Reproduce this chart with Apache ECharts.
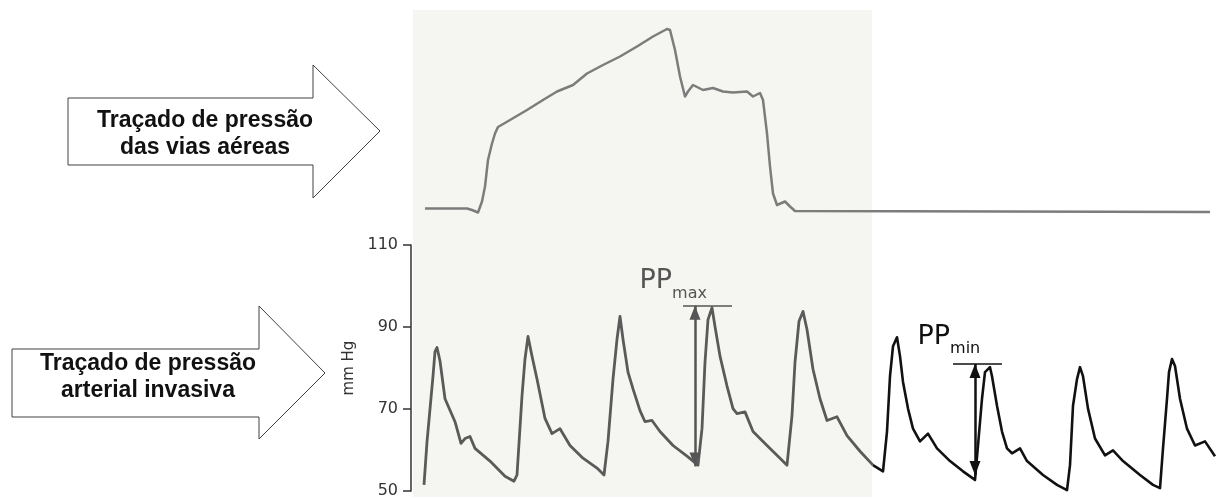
<!DOCTYPE html>
<html>
<head>
<meta charset="utf-8">
<script src="https://cdn.jsdelivr.net/npm/echarts@6/dist/echarts.min.js"></script>
<style>html,body{margin:0;padding:0;background:#fff;}#c{width:1217px;height:499px;}</style>
</head>
<body>
<div id="c"></div>
<script>
// ---- Airway pressure trace (time in s, pressure in arbitrary units) ----
var airwayT = [0.14,0.56,0.61,0.67,0.71,0.74,0.77,0.81,0.84,0.87,0.99,1.16,1.32,1.46,1.62,1.76,1.92,2.09,2.26,2.42,2.56,2.59,2.64,2.69,2.74,2.77,2.82,2.87,2.92,3.02,3.12,3.22,3.36,3.42,3.49,3.52,3.56,3.59,3.62,3.66,3.74,3.79,3.84,7.99];
var airwayP = [2.3,2.3,2.0,1.5,3.7,6.7,12,15.3,17.3,18.6,20,22,24,25.7,27,29.3,31,32.7,34.7,36.7,38.2,38,34,28.7,24.7,25.7,27,26.5,26,26.4,25.7,25.5,25.7,24.7,25.4,24,17.3,10.7,5.3,3,3.7,2.7,1.8,1.6];

// ---- Arterial pressure, first part (grey, during inspiration) ----
var artGreyT = [0.13,0.16,0.22,0.24,0.26,0.29,0.34,0.44,0.50,0.54,0.59,0.64,0.79,0.94,1.03,1.06,1.11,1.14,1.17,1.21,1.26,1.34,1.41,1.49,1.59,1.72,1.86,1.93,1.97,2.02,2.06,2.09,2.12,2.17,2.22,2.29,2.34,2.41,2.49,2.62,2.76,2.87,2.91,2.94,2.97,3.01,3.04,3.09,3.16,3.22,3.26,3.34,3.42,3.56,3.69,3.76,3.81,3.84,3.88,3.92,3.96,4.02,4.09,4.16,4.26,4.36,4.49,4.62];
var artGreyP = [51.5,62,78,84,85,81.7,72.5,66.9,61.6,62.8,63.3,60.4,57.3,53.6,52.4,53.9,73.2,82.2,87.7,82.9,77.3,67.7,64,65.2,61.1,58,55.6,53.9,62.1,77.3,87,92.6,87,79,74.9,69.6,66.9,67.2,64.5,61.1,58.5,56.3,65.2,81.4,91.8,94.7,90.1,82.9,75.6,70.1,68.9,69.3,64.5,61.1,58,56.3,68.4,81.4,91.4,93.8,89.4,79.7,72.5,67.2,68.1,63.5,59.7,56.3];

// ---- Arterial pressure, second part (black, during expiration) ----
var artBlackT = [4.62,4.72,4.76,4.79,4.82,4.86,4.89,4.92,4.97,5.02,5.09,5.17,5.26,5.39,5.52,5.64,5.67,5.71,5.74,5.79,5.81,5.86,5.91,5.96,6.01,6.09,6.16,6.32,6.46,6.56,6.59,6.62,6.66,6.69,6.72,6.77,6.84,6.94,7.02,7.12,7.29,7.42,7.49,7.52,7.56,7.58,7.61,7.64,7.69,7.76,7.84,7.94,8.04];
var artBlackP = [56.3,54.8,64.5,78,85.3,87.5,82.9,76.6,70.1,65.2,62.1,64,60.4,57.3,54.8,52.7,61.1,72.5,79,80.2,78,70.8,64.5,60.4,59.2,60.4,57.3,53.9,51.5,50.2,56.3,70.8,77.3,80.2,78,70.1,62.8,58.7,59.9,57.3,53.9,51.5,50.7,60.4,72.5,79,82.2,80.5,72.5,65.2,61.1,62.1,58.5];

// ---- Axis ticks ----
var yTicks = [50, 70, 90, 110];

// ---- Shaded (inspiration) period ----
var shadeStart = 0.02, shadeEnd = 4.61;

// ---- Pulse pressure annotations: [time, top value, bottom value, bar start, bar end, label time, label value] ----
var ppMax = [2.84, 95.2, 56.0, 2.72, 3.21, 2.28, 100.3];
var ppMin = [5.64, 81.0, 53.9, 5.42, 5.91, 5.06, 86.8];

function zip(a, b) { return a.map(function (v, i) { return [v, b[i]]; }); }

var chart = echarts.init(document.getElementById('c'), null, {renderer: 'canvas'});

function ppMarkLine(pp, color) {
  return {
    silent: true, animation: false, symbol: 'none',
    label: {show: false},
    lineStyle: {color: color, width: 2.5, type: 'solid'},
    emphasis: {disabled: true},
    data: [
      [{coord: [pp[0], pp[1]], symbol: 'triangle', symbolSize: [11, 14], symbolOffset: [0, 7]},
       {coord: [pp[0], pp[2]], symbol: 'triangle', symbolSize: [11, 14], symbolOffset: [0, 7]}],
      [{coord: [pp[3], pp[1]], lineStyle: {width: 1.5}}, {coord: [pp[4], pp[1]]}]
    ]
  };
}
function ppMarkPoint(pp, sub, color) {
  return {
    silent: true, animation: false,
    data: [{
      coord: [pp[5], pp[6]], symbol: 'circle', symbolSize: 1,
      itemStyle: {color: 'rgba(0,0,0,0)'},
      label: {
        show: true, position: 'right', distance: 0,
        formatter: '{a|PP}{b|' + sub + '}',
        rich: {
          a: {fontFamily: 'DejaVu Sans', fontSize: 27, color: color, lineHeight: 34, verticalAlign: 'top'},
          b: {fontFamily: 'DejaVu Sans', fontSize: 16, color: color, lineHeight: 8, verticalAlign: 'bottom'}
        }
      }
    }]
  };
}

var hiddenX = function (gi) {
  return {gridIndex: gi, type: 'value', min: 0, max: 8.06, show: false};
};

var option = {
  animation: false,
  backgroundColor: '#ffffff',
  grid: [
    {left: 411, right: 0, top: 10, height: 487},
    {left: 411, right: 0, top: 10, height: 210},
    {left: 411, right: 0, top: 245, height: 248}
  ],
  xAxis: [hiddenX(0), hiddenX(1), hiddenX(2)],
  yAxis: [
    {gridIndex: 0, type: 'value', min: 0, max: 1, show: false},
    {gridIndex: 1, type: 'value', min: 0, max: 42, show: false},
    {
      gridIndex: 2, type: 'value', min: yTicks[0], max: yTicks[yTicks.length - 1], interval: 20,
      name: 'mm Hg', nameLocation: 'middle', nameGap: 44,
      nameTextStyle: {fontFamily: 'DejaVu Sans', fontSize: 15, color: '#333'},
      axisLine: {show: true, lineStyle: {color: '#333', width: 1.5}},
      axisTick: {show: true, length: 8, lineStyle: {color: '#333', width: 1.5}},
      axisLabel: {fontFamily: 'DejaVu Sans', fontSize: 16, color: '#333', margin: 13},
      splitLine: {show: false}
    }
  ],
  series: [
    {
      type: 'line', xAxisIndex: 0, yAxisIndex: 0, data: [], silent: true,
      markArea: {
        silent: true,
        itemStyle: {color: '#f5f5f1'},
        data: [[{coord: [shadeStart, 0]}, {coord: [shadeEnd, 1]}]]
      }
    },
    {
      type: 'line', xAxisIndex: 1, yAxisIndex: 1, data: zip(airwayT, airwayP),
      symbol: 'none', silent: true,
      lineStyle: {color: '#7c7c7c', width: 2.5, join: 'round'}
    },
    {
      type: 'line', xAxisIndex: 2, yAxisIndex: 2, data: zip(artGreyT, artGreyP),
      symbol: 'none', silent: true,
      lineStyle: {color: '#5a5a5a', width: 2.8, join: 'round'},
      markLine: ppMarkLine(ppMax, '#555'),
      markPoint: ppMarkPoint(ppMax, 'max', '#555')
    },
    {
      type: 'line', xAxisIndex: 2, yAxisIndex: 2, data: zip(artBlackT, artBlackP),
      symbol: 'none', silent: true,
      lineStyle: {color: '#111', width: 2.6, join: 'round'},
      markLine: ppMarkLine(ppMin, '#111'),
      markPoint: ppMarkPoint(ppMin, 'min', '#111')
    }
  ],
  graphic: [
    {type: 'polygon', z: 10, shape: {points: [[68,98],[313,98],[313,65],[380,131],[313,198],[313,165],[68,165]]},
     style: {fill: '#fff', stroke: '#404040', lineWidth: 1}},
    {type: 'text', z: 11, x: 205, y: 134,
     style: {text: 'Traçado de pressão\ndas vias aéreas', fontFamily: 'Liberation Sans', fontWeight: 'bold', fontSize: 23,
             fill: '#111', align: 'center', verticalAlign: 'middle', textAlign: 'center', textVerticalAlign: 'middle', lineHeight: 27}},
    {type: 'polygon', z: 10, shape: {points: [[12,349],[259,349],[259,306],[325,373],[259,439],[259,417],[12,417]]},
     style: {fill: '#fff', stroke: '#404040', lineWidth: 1}},
    {type: 'text', z: 11, x: 148, y: 377,
     style: {text: 'Traçado de pressão\narterial invasiva', fontFamily: 'Liberation Sans', fontWeight: 'bold', fontSize: 23,
             fill: '#111', align: 'center', verticalAlign: 'middle', textAlign: 'center', textVerticalAlign: 'middle', lineHeight: 27}}
  ]
};
chart.setOption(option);
</script>
</body>
</html>
